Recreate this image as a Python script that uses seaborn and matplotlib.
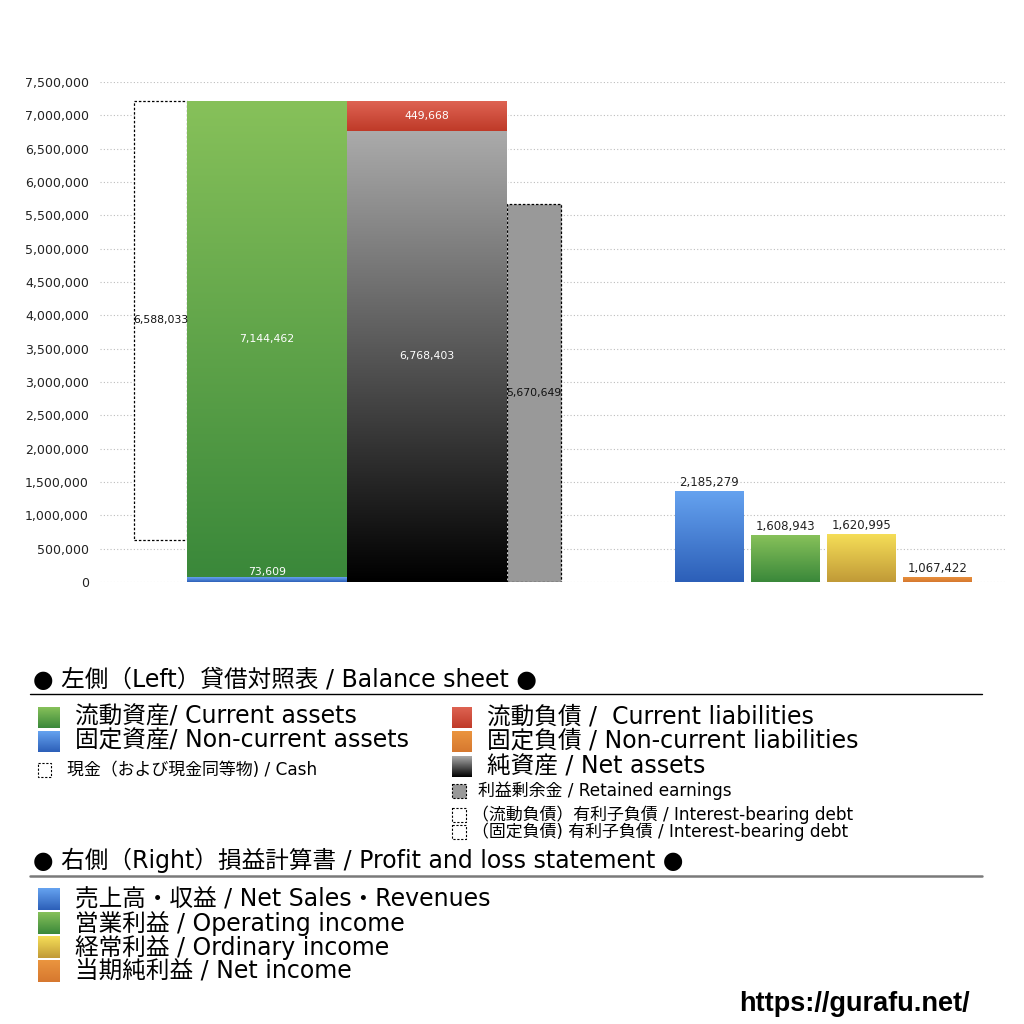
import numpy as np
import pandas as pd
import matplotlib
matplotlib.use("Agg")
import matplotlib.pyplot as plt
import seaborn as sns
from matplotlib.colors import to_rgba
from matplotlib.patches import Rectangle
from matplotlib.ticker import FuncFormatter, MultipleLocator

# ---------------- data ----------------
current_assets = 7144462
noncurrent_assets = 73609
current_liabilities = 449668
net_assets = 6768403
cash = 6588033
retained_earnings = 5670649

pl_categories = ["売上高・収益", "営業利益", "経常利益", "当期純利益"]
pl_label_values = [2185279, 1608943, 1620995, 1067422]
pl_bar_heights = [1370000, 705000, 725000, 80000]   # heights as drawn in the picture

y_max = 7500000
y_step = 500000

# ---------------- styles ----------------
GREEN = ("#87c15a", "#3a883a")
BLUE = ("#66a3f0", "#2c5fb8")
RED = ("#de6353", "#bf3a28")
ORANGE = ("#eb953f", "#d6782f")
YELLOW = ("#f6df58", "#c19a37")
GRAYBLACK = ("#ababab", "#000000")
RETAINED = "#999999"
DOT = (0, (2, 1.5))

sns.set_theme(style="white")
FAM = ['DejaVu Sans', 'Noto Sans CJK JP']
plt.rcParams['font.family'] = FAM
plt.rcParams['text.color'] = 'black'

W = H = 1024
fig = plt.figure(figsize=(W / 100, H / 100), dpi=100)
fig.patch.set_facecolor("white")
ax = fig.add_axes([100 / W, 1 - 582 / H, 905 / W, 500 / H])


def grad_img(top, bottom, n=256, lower=True):
    t = np.linspace(0, 1, n)[:, None, None]
    c_b = np.array(to_rgba(bottom))
    c_t = np.array(to_rgba(top))
    if lower:
        return c_b + (c_t - c_b) * t
    return c_t + (c_b - c_t) * t


def gradient_patch(a, patch, colors):
    x0, y0 = patch.get_x(), patch.get_y()
    w, h = patch.get_width(), patch.get_height()
    im = a.imshow(grad_img(*colors), extent=(x0, x0 + w, y0, y0 + h), origin="lower",
                  aspect="auto", zorder=patch.get_zorder() + 0.1, interpolation="bilinear")
    im.set_clip_path(patch)


total_assets = current_assets + noncurrent_assets

# left: balance sheet
cash_bar = ax.bar(134, cash, bottom=total_assets - cash, width=53, align="edge",
                  facecolor="white", edgecolor="black", linestyle=DOT, linewidth=0.9, zorder=2)[0]
nca = ax.bar(187, noncurrent_assets, width=160, align="edge", color=BLUE[1], zorder=3)[0]
ca = ax.bar(187, current_assets, bottom=noncurrent_assets, width=160, align="edge",
            color=GREEN[1], zorder=3)[0]
na = ax.bar(347, net_assets, width=160, align="edge", color="black", zorder=3)[0]
cl = ax.bar(347, current_liabilities, bottom=net_assets, width=160, align="edge",
            color=RED[1], zorder=3)[0]
re_bar = ax.bar(507, retained_earnings, width=54, align="edge", facecolor=RETAINED,
                edgecolor="black", linestyle=DOT, linewidth=0.9, zorder=3)[0]

for p, c in [(nca, BLUE), (ca, GREEN), (na, GRAYBLACK), (cl, RED)]:
    gradient_patch(ax, p, c)

# right: P&L via seaborn
pl_x = [709.5, 785.5, 861.5, 937.5]
df = pd.DataFrame({"x": pl_x, "h": pl_bar_heights, "cat": pl_categories})
pl_colors = [BLUE, GREEN, YELLOW, ORANGE]
n0 = len(ax.patches)
sns.barplot(data=df, x="x", y="h", hue="cat", hue_order=pl_categories,
            palette=[c[1] for c in pl_colors], native_scale=True, width=69 / 76,
            dodge=False, saturation=1, errorbar=None, legend=False, ax=ax, zorder=3)
pl_patches = [p for p in ax.patches[n0:] if p.get_height() > 0]
pl_patches.sort(key=lambda p: p.get_x())
for i, (p, c) in enumerate(zip(pl_patches, pl_colors)):
    p.set_edgecolor("none")
    gradient_patch(ax, p, c)
    ax.annotate(f"{pl_label_values[i]:,}",
                (p.get_x() + p.get_width() / 2, p.get_height()),
                xytext=(0, 1.5), textcoords="offset points", ha="center", va="bottom",
                fontsize=8.5, color="#222222", zorder=6)

# balance sheet labels
LBL = 7.8
ax.text(160.5, total_assets - cash / 2, f"{cash:,}", ha="center", va="center",
        fontsize=LBL, color="#111111", zorder=6)
ax.text(267, noncurrent_assets + current_assets / 2, f"{current_assets:,}", ha="center",
        va="center", fontsize=LBL, color="white", zorder=6)
ax.annotate(f"{noncurrent_assets:,}", (267, noncurrent_assets), xytext=(0, 4),
            textcoords="offset points", ha="center", va="center", fontsize=LBL,
            color="white", zorder=6)
ax.text(427, net_assets / 2, f"{net_assets:,}", ha="center", va="center",
        fontsize=LBL, color="white", zorder=6)
ax.text(427, net_assets + current_liabilities / 2, f"{current_liabilities:,}", ha="center",
        va="center", fontsize=LBL, color="white", zorder=6)
ax.text(534, retained_earnings / 2, f"{retained_earnings:,}", ha="center", va="center",
        fontsize=LBL, color="#111111", zorder=6)

ax.set_xlim(100, 1005)
ax.set_ylim(0, y_max)
ax.yaxis.set_major_locator(MultipleLocator(y_step))
ax.yaxis.set_major_formatter(FuncFormatter(lambda v, _: f"{int(v):,}"))
ax.grid(axis="y", linestyle=(0, (1, 2)), color="#bdbdbd", linewidth=0.8, zorder=0)
ax.grid(axis="x", visible=False)
ax.set_axisbelow(True)
for s in ax.spines.values():
    s.set_visible(False)
ax.set_xticks([])
ax.set_xlabel("")
ax.set_ylabel("")
ax.tick_params(axis="y", length=0, pad=8, labelsize=9, labelcolor="#222222")
ax.set_facecolor("none")

# ---------------- legend block (figure pixel overlay) ----------------
lax = fig.add_axes([0, 0, 1, 1], zorder=5)
lax.set_xlim(0, W)
lax.set_ylim(H, 0)
lax.axis("off")


def legend_square(x0, y0, x1, y1, colors=None, face=None, dotted=False):
    if colors is not None:
        lax.imshow(grad_img(*colors, lower=False), extent=(x0, x1, y1, y0), origin="upper",
                   aspect="auto", interpolation="bilinear", zorder=2)
    else:
        lax.add_patch(Rectangle((x0, y0), x1 - x0, y1 - y0, facecolor=face or "white",
                                edgecolor="black" if dotted else "none",
                                linestyle=DOT, linewidth=0.8, zorder=2))


BIG = 17
SMALL = 12.2
HEAD = 17
TC = "black"

lax.text(33, 680, "● 左側（Left）貸借対照表 / Balance sheet ●", fontsize=HEAD, va="center",
         ha="left", color=TC)
lax.plot([30, 982], [694, 694], color="black", lw=1)

legend_square(38, 707, 60, 728, GREEN)
lax.text(75, 717, "流動資産/ Current assets", fontsize=BIG, va="center", color=TC)
legend_square(38, 731, 60, 752, BLUE)
lax.text(75, 741, "固定資産/ Non-current assets", fontsize=BIG, va="center", color=TC)
legend_square(38, 763, 51, 777, face="white", dotted=True)
lax.text(67, 770, "現金（および現金同等物) / Cash", fontsize=SMALL, va="center", color=TC)

legend_square(452, 707, 472, 728, RED)
lax.text(487, 717, "流動負債 /  Current liabilities", fontsize=BIG, va="center", color=TC)
legend_square(452, 731, 472, 752, ORANGE)
lax.text(487, 741, "固定負債 / Non-current liabilities", fontsize=BIG, va="center", color=TC)
legend_square(452, 756, 472, 777, GRAYBLACK)
lax.text(487, 766, "純資産 / Net assets", fontsize=BIG, va="center", color=TC)
legend_square(452, 784, 466, 798, face=RETAINED, dotted=True)
lax.text(478, 791, "利益剰余金 / Retained earnings", fontsize=SMALL, va="center", color=TC)
legend_square(452, 808, 466, 822, face="white", dotted=True)
lax.text(472, 815, "（流動負債）有利子負債 / Interest-bearing debt", fontsize=SMALL,
         va="center", color=TC)
legend_square(452, 825, 466, 839, face="white", dotted=True)
lax.text(472, 832, "（固定負債) 有利子負債 / Interest-bearing debt", fontsize=SMALL,
         va="center", color=TC)

lax.text(33, 860, "● 右側（Right）損益計算書 / Profit and loss statement ●", fontsize=HEAD,
         va="center", ha="left", color=TC)
lax.plot([30, 982], [876, 876], color="#7a7a7a", lw=1.8)

pl_legend_text = ["売上高・収益 / Net Sales・Revenues", "営業利益 / Operating income",
                  "経常利益 / Ordinary income", "当期純利益 / Net income"]
for i, (txt, c) in enumerate(zip(pl_legend_text, pl_colors)):
    yc = 899 + 24 * i
    legend_square(38, yc - 11, 60, yc + 11, c)
    lax.text(75, yc, txt, fontsize=BIG, va="center", color=TC)

lax.text(970, 1004, "https://gurafu.net/", fontsize=19.5, fontweight="bold", ha="right",
         va="center", color="black", family=["Liberation Sans", "DejaVu Sans"])

fig.savefig("out.png", dpi=100, facecolor="white")
